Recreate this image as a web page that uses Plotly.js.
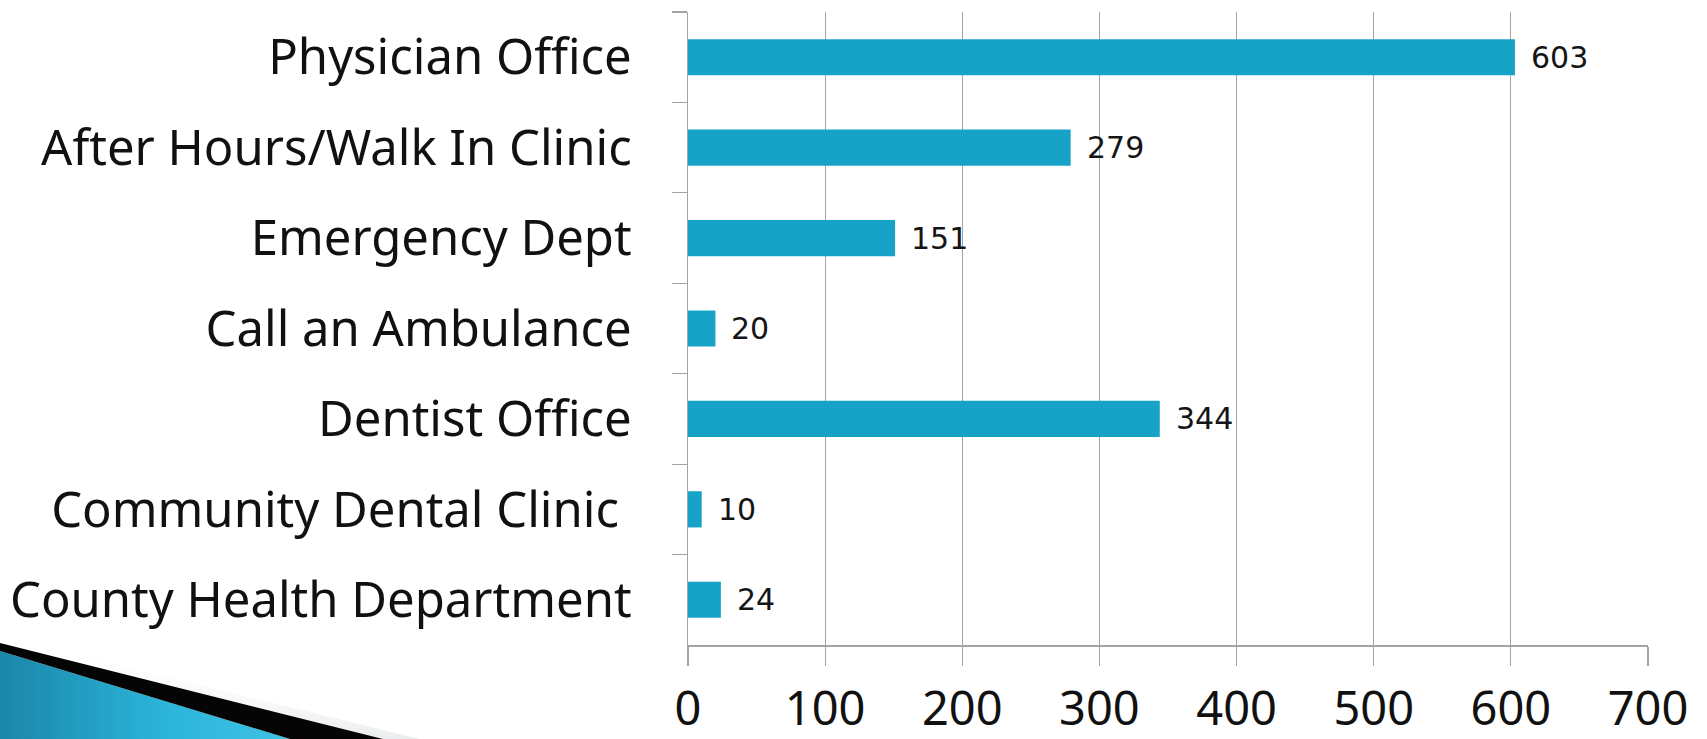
<!DOCTYPE html>
<html>
<head>
<meta charset="utf-8">
<script src="https://cdn.plot.ly/plotly-3.0.1.min.js"></script>
<style>
  html, body { margin: 0; padding: 0; background: #ffffff; overflow: hidden; }
  #wrap { position: relative; width: 1707px; height: 739px; }
  #chart { position: absolute; left: 0; top: 0; width: 1707px; height: 739px; }
  #deco { position: absolute; left: 0; top: 0; width: 1707px; height: 739px; pointer-events: none; }
</style>
</head>
<body>
<div id="wrap">
  <div id="chart"></div>
  <svg id="deco" width="1707" height="739" viewBox="0 0 1707 739">
    <defs>
      <linearGradient id="blueGrad" x1="0" y1="0" x2="1" y2="0">
        <stop offset="0" stop-color="#1a86a8"/>
        <stop offset="0.55" stop-color="#2bb3da"/>
        <stop offset="1" stop-color="#3fc3e6"/>
      </linearGradient>
      <linearGradient id="shade" x1="0" y1="0" x2="0" y2="1">
        <stop offset="0" stop-color="#ffffff" stop-opacity="0"/>
        <stop offset="1" stop-color="#e6e9eb" stop-opacity="0.8"/>
      </linearGradient>
    </defs>
    <polygon points="0,636 420,739 383,739 0,643" fill="url(#shade)"/>
    <polygon points="0,651 290,739 0,739" fill="url(#blueGrad)"/>
    <polygon points="0,643 383,739 290,739 0,651" fill="#050505"/>
  </svg>
</div>
<script>
const categories = [
  "Physician Office",
  "After Hours/Walk In Clinic",
  "Emergency Dept",
  "Call an Ambulance",
  "Dentist Office",
  "Community Dental Clinic\u00a0",
  "County Health Department"
];
const counts = [603, 279, 151, 20, 344, 10, 24];
const xTickValues = [0, 100, 200, 300, 400, 500, 600, 700];

const barColor = "#17a3c7";
const gridColor = "#a3a3a3";

const trace = {
  type: "bar",
  orientation: "h",
  x: counts,
  y: categories,
  marker: { color: barColor, line: { width: 0 } },
  hoverinfo: "x+y"
};

const annotations = counts.map((v, i) => ({
  x: v,
  y: categories[i],
  xref: "x",
  yref: "y",
  text: String(v),
  showarrow: false,
  xanchor: "left",
  yanchor: "middle",
  xshift: 14,
  font: { family: "DejaVu Sans", size: 30, color: "#151515" }
}));

const layout = {
  width: 1707,
  height: 739,
  margin: { l: 688, r: 59, t: 12, b: 94, pad: 0 },
  paper_bgcolor: "rgba(0,0,0,0)",
  plot_bgcolor: "rgba(0,0,0,0)",
  showlegend: false,
  bargap: 0.6,
  xaxis: {
    range: [0, 700],
    tickmode: "array",
    tickvals: xTickValues,
    ticktext: xTickValues.map(String),
    showgrid: true,
    gridcolor: gridColor,
    gridwidth: 1.2,
    zeroline: false,
    showline: true,
    linecolor: gridColor,
    linewidth: 1.5,
    ticks: "outside",
    ticklen: 19,
    tickwidth: 1.2,
    tickcolor: gridColor,
    ticklabelstandoff: 3,
    tickfont: { family: "Noto Sans", size: 47, color: "#111111" },
    fixedrange: true
  },
  yaxis: {
    type: "category",
    autorange: "reversed",
    showgrid: false,
    zeroline: false,
    showline: true,
    linecolor: gridColor,
    linewidth: 1.5,
    ticks: "outside",
    tickson: "boundaries",
    ticklen: 15,
    tickwidth: 1.2,
    tickcolor: gridColor,
    ticklabelstandoff: 45,
    tickfont: { family: "Noto Sans", size: 49, color: "#111111" },
    fixedrange: true
  },
  annotations: annotations
};

Plotly.newPlot("chart", [trace], layout, { displayModeBar: false, staticPlot: true });
</script>
</body>
</html>
